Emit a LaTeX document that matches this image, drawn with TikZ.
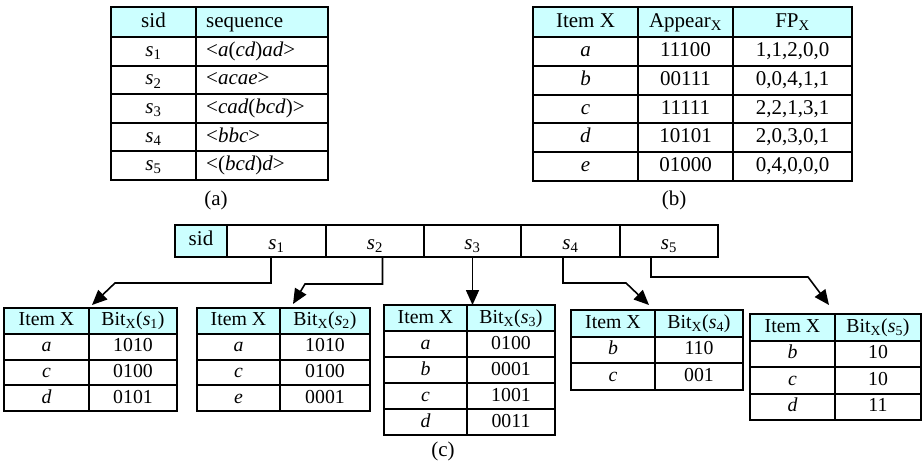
\documentclass[tikz,border=0pt]{standalone}
\usepackage{fontspec}
\setmainfont{Liberation Serif}
\usetikzlibrary{arrows.meta}
\definecolor{hdr}{HTML}{CCFFFF}
\tikzset{
  cellbox/.style={draw, line width=2pt, inner sep=0pt, outer sep=0pt, anchor=north west, text height=14pt, text depth=4pt},
  conn/.style={line width=1.6pt, -{Triangle[length=15pt,width=13pt]}},
  lbl/.style={inner sep=0pt},
  topfont/.style={font=\fontsize{21}{24}\selectfont},
  botfont/.style={font=\fontsize{19.8}{22}\selectfont},
}
\newcommand{\tcell}[7]{\node[cellbox, fill=#6, minimum width={(#4-(#2))*1pt}, minimum height={(#5-(#3))*1pt}] (#1) at (#2,#3) {#7};}
\newcommand{\lcell}[7]{\node[cellbox, fill=#6, minimum width={(#4-(#2))*1pt}, minimum height={(#5-(#3))*1pt}] (#1) at (#2,#3) {};
  \node[lbl, anchor=base west] (#1t) at ([xshift=10pt,yshift=-5pt]#1.west) {#7};}
\newcommand{\sx}[1]{\textit{s}\textsubscript{#1}}
\newcommand{\bx}[1]{Bit\textsubscript{X}(\textit{s}\textsubscript{#1})}
\begin{document}
\begin{tikzpicture}[x=1pt,y=-1pt]
\useasboundingbox (0,0) rectangle (924,464);
% ---------------- table (a)
\begin{scope}[topfont]
\tcell{a0l}{111}{7}{196}{37}{hdr}{sid}
\lcell{a0r}{196}{7}{328}{37}{hdr}{sequence}
\tcell{a1l}{111}{37}{196}{65.6}{white}{\sx{1}}
\lcell{a1r}{196}{37}{328}{65.6}{white}{<\textit{a}(\textit{cd})\textit{ad}>}
\tcell{a2l}{111}{65.6}{196}{94.2}{white}{\sx{2}}
\lcell{a2r}{196}{65.6}{328}{94.2}{white}{<\textit{acae}>}
\tcell{a3l}{111}{94.2}{196}{122.8}{white}{\sx{3}}
\lcell{a3r}{196}{94.2}{328}{122.8}{white}{<\textit{cad}(\textit{bcd})>}
\tcell{a4l}{111}{122.8}{196}{151.4}{white}{\sx{4}}
\lcell{a4r}{196}{122.8}{328}{151.4}{white}{<\textit{bbc}>}
\tcell{a5l}{111}{151.4}{196}{180}{white}{\sx{5}}
\lcell{a5r}{196}{151.4}{328}{180}{white}{<(\textit{bcd})\textit{d}>}
\node[lbl] (capa) at (216,200) {(a)};
% ---------------- table (b)
\tcell{b0a}{533}{7}{638}{37}{hdr}{Item X}
\tcell{b0b}{638}{7}{733}{37}{hdr}{Appear\textsubscript{X}}
\tcell{b0c}{733}{7}{852}{37}{hdr}{FP\textsubscript{X}}
\tcell{b1a}{533}{37}{638}{65.8}{white}{\textit{a}}
\tcell{b1b}{638}{37}{733}{65.8}{white}{11100}
\tcell{b1c}{733}{37}{852}{65.8}{white}{1,1,2,0,0}
\tcell{b2a}{533}{65.8}{638}{94.6}{white}{\textit{b}}
\tcell{b2b}{638}{65.8}{733}{94.6}{white}{00111}
\tcell{b2c}{733}{65.8}{852}{94.6}{white}{0,0,4,1,1}
\tcell{b3a}{533}{94.6}{638}{123.4}{white}{\textit{c}}
\tcell{b3b}{638}{94.6}{733}{123.4}{white}{11111}
\tcell{b3c}{733}{94.6}{852}{123.4}{white}{2,2,1,3,1}
\tcell{b4a}{533}{123.4}{638}{152.2}{white}{\textit{d}}
\tcell{b4b}{638}{123.4}{733}{152.2}{white}{10101}
\tcell{b4c}{733}{123.4}{852}{152.2}{white}{2,0,3,0,1}
\tcell{b5a}{533}{152.2}{638}{181}{white}{\textit{e}}
\tcell{b5b}{638}{152.2}{733}{181}{white}{01000}
\tcell{b5c}{733}{152.2}{852}{181}{white}{0,4,0,0,0}
\node[lbl] (capb) at (674,200) {(b)};
% ---------------- sid bar
\tcell{bsid}{175}{225}{227}{257}{hdr}{\raisebox{1pt}{sid}}
\tcell{bs1}{227}{225}{326}{257}{white}{\raisebox{-3pt}{\sx{1}}}
\tcell{bs2}{326}{225}{424}{257}{white}{\raisebox{-3pt}{\sx{2}}}
\tcell{bs3}{424}{225}{521}{257}{white}{\raisebox{-3pt}{\sx{3}}}
\tcell{bs4}{521}{225}{620}{257}{white}{\raisebox{-3pt}{\sx{4}}}
\tcell{bs5}{620}{225}{718}{257}{white}{\raisebox{-3pt}{\sx{5}}}
\end{scope}
% ---------------- bottom tables
\begin{scope}[botfont]
% T1
\tcell{t1a}{4}{308}{89}{333.75}{hdr}{Item X}
\tcell{t1b}{89}{308}{177}{333.75}{hdr}{\bx{1}}
\tcell{t1c}{4}{333.75}{89}{359.5}{white}{\textit{a}}
\tcell{t1d}{89}{333.75}{177}{359.5}{white}{1010}
\tcell{t1e}{4}{359.5}{89}{385.25}{white}{\textit{c}}
\tcell{t1f}{89}{359.5}{177}{385.25}{white}{0100}
\tcell{t1g}{4}{385.25}{89}{411}{white}{\textit{d}}
\tcell{t1h}{89}{385.25}{177}{411}{white}{0101}
% T2
\tcell{t2a}{197}{308}{280}{333.75}{hdr}{Item X}
\tcell{t2b}{280}{308}{370}{333.75}{hdr}{\bx{2}}
\tcell{t2c}{197}{333.75}{280}{359.5}{white}{\textit{a}}
\tcell{t2d}{280}{333.75}{370}{359.5}{white}{1010}
\tcell{t2e}{197}{359.5}{280}{385.25}{white}{\textit{c}}
\tcell{t2f}{280}{359.5}{370}{385.25}{white}{0100}
\tcell{t2g}{197}{385.25}{280}{411}{white}{\textit{e}}
\tcell{t2h}{280}{385.25}{370}{411}{white}{0001}
% T3
\tcell{t3a}{384}{305}{467}{331}{hdr}{Item X}
\tcell{t3b}{467}{305}{555}{331}{hdr}{\bx{3}}
\tcell{t3c}{384}{331}{467}{357}{white}{\textit{a}}
\tcell{t3d}{467}{331}{555}{357}{white}{0100}
\tcell{t3e}{384}{357}{467}{383}{white}{\textit{b}}
\tcell{t3f}{467}{357}{555}{383}{white}{0001}
\tcell{t3g}{384}{383}{467}{409}{white}{\textit{c}}
\tcell{t3h}{467}{383}{555}{409}{white}{1001}
\tcell{t3i}{384}{409}{467}{435}{white}{\textit{d}}
\tcell{t3j}{467}{409}{555}{435}{white}{0011}
% T4
\tcell{t4a}{571}{310}{655}{336.5}{hdr}{Item X}
\tcell{t4b}{655}{310}{743}{336.5}{hdr}{\bx{4}}
\tcell{t4c}{571}{336.5}{655}{363}{white}{\textit{b}}
\tcell{t4d}{655}{336.5}{743}{363}{white}{110}
\tcell{t4e}{571}{363}{655}{389.5}{white}{\textit{c}}
\tcell{t4f}{655}{363}{743}{389.5}{white}{001}
% T5
\tcell{t5a}{750}{314}{835}{340.5}{hdr}{Item X}
\tcell{t5b}{835}{314}{921}{340.5}{hdr}{\bx{5}}
\tcell{t5c}{750}{340.5}{835}{367}{white}{\textit{b}}
\tcell{t5d}{835}{340.5}{921}{367}{white}{10}
\tcell{t5e}{750}{367}{835}{393.5}{white}{\textit{c}}
\tcell{t5f}{835}{367}{921}{393.5}{white}{10}
\tcell{t5g}{750}{393.5}{835}{420}{white}{\textit{d}}
\tcell{t5h}{835}{393.5}{921}{420}{white}{11}
\node[lbl, font=\fontsize{21}{24}\selectfont] (capc) at (443,451) {(c)};
\end{scope}
% ---------------- connectors
\coordinate (k1) at (115,283);
\coordinate (k2) at (305,284);
\coordinate (k4) at (626,283);
\coordinate (k5) at (808,277);
\draw[conn] ([xshift=-5.5pt]bs1.south) |- (k1) -- ([xshift=3pt,yshift=3pt]t1b.north west);
\draw[conn] ([xshift=7.5pt]bs2.south) |- (k2) -- ([xshift=13pt,yshift=4pt]t2b.north west);
\draw[conn] (bs3.south) -- (bs3.south |- t3b.north);
\draw[conn] ([xshift=-7.5pt]bs4.south) |- (k4) -- ([xshift=-6pt,yshift=5pt]t4b.north west);
\draw[conn] ([xshift=-18pt]bs5.south) |- (k5) -- ([xshift=-6pt,yshift=9pt]t5b.north west);
\end{tikzpicture}
\end{document}
